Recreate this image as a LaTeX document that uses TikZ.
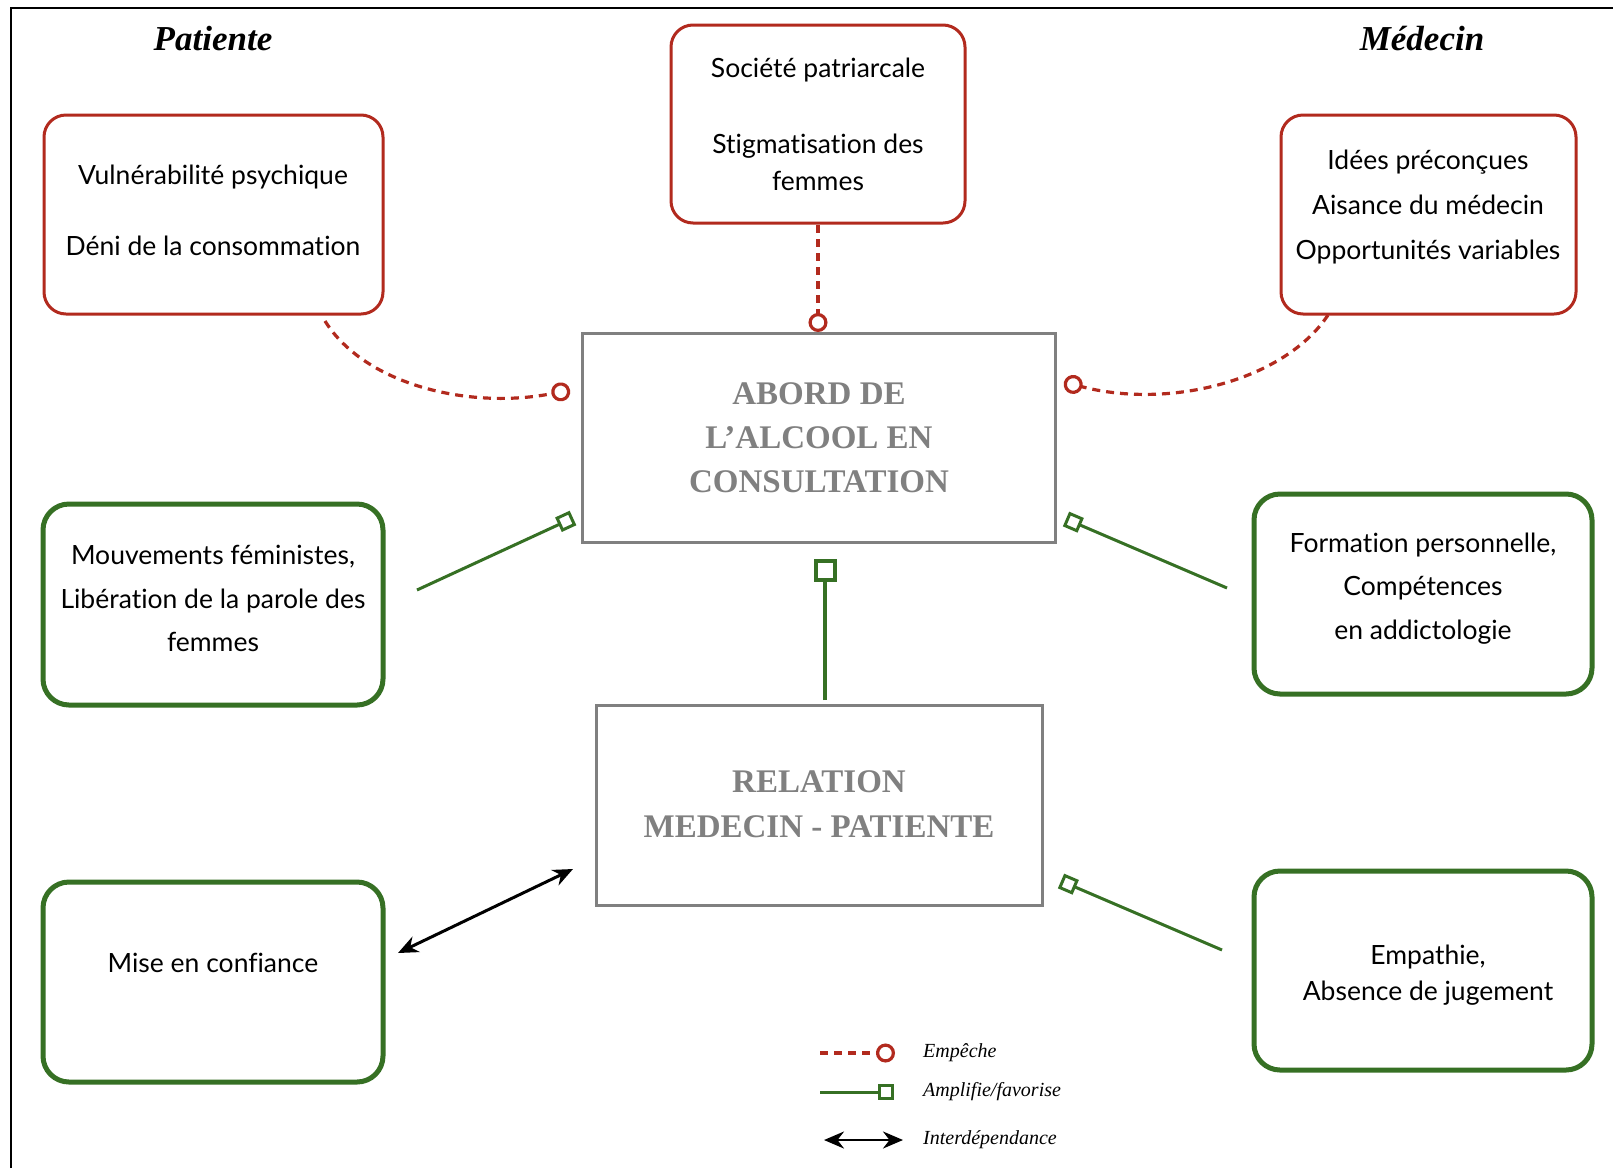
\documentclass[tikz,border=0pt]{standalone}
\usepackage{fontspec}
\setmainfont{Liberation Serif}
\newfontfamily\boxfont[Ligatures=NoCommon]{Lato}
\usetikzlibrary{arrows.meta}
\definecolor{cred}{RGB}{178,42,30}
\definecolor{cgreen}{RGB}{54,112,36}
\definecolor{cgray}{RGB}{128,128,128}
\begin{document}
\begin{tikzpicture}[x=1pt,y=-1pt,
  redbox/.style={draw=cred, line width=3pt, rounded corners=22pt, inner sep=0pt},
  greenbox/.style={draw=cgreen, line width=5pt, rounded corners=26pt, inner sep=0pt},
  graybox/.style={draw=cgray, line width=3pt, inner sep=0pt},
  boxtext/.style={align=center, inner sep=0pt},
  bigtext/.style={align=center, inner sep=0pt, text=cgray, font=\bfseries\fontsize{33}{44}\selectfont},
  header/.style={font=\bfseries\itshape\fontsize{35}{40}\selectfont, inner sep=0pt},
  legtext/.style={font=\itshape\fontsize{20}{22}\selectfont, anchor=west, inner sep=0pt},
  empeche/.style={draw=cred, line width=3.2pt, dash pattern=on 8pt off 6pt,
     -{Circle[open, length=19pt, width=19pt]}},
  amplifie/.style={draw=cgreen, line width=3pt, -{Square[open, length=16pt, width=16pt]}},
  amplifiebig/.style={draw=cgreen, line width=4pt, -{Square[open, length=23pt, width=23pt]}},
  interdep/.style={draw=black, line width=3pt, {Stealth[length=20pt, width=17pt]}-{Stealth[length=20pt, width=17pt]}}
]
\useasboundingbox (0,0) rectangle (1613,1168);
\fill[white] (0,0) rectangle (1613,1168);
% frame
\draw[line width=2.5pt] (11,1168) -- (11,8) -- (1613,8);

% headers
\node[header] (hpat) at (213,39) {Patiente};
\node[header] (hmed) at (1422,39) {Médecin};

% red boxes
\node[redbox, minimum width=339pt, minimum height=199pt] (vul) at (213.5,214.5) {};
\node[boxtext, font=\boxfont\fontsize{26.5}{71}\selectfont] (vultxt) at (213,210)
  {Vulnérabilité psychique\\Déni de la consommation};

\node[redbox, minimum width=294pt, minimum height=198pt] (soc) at (818,124) {};
\node[boxtext, font=\boxfont\fontsize{26.5}{37}\selectfont] (soctxt) at (818,124)
  {Société patriarcale\\[39pt]Stigmatisation des\\femmes};

\node[redbox, minimum width=295pt, minimum height=199pt] (idee) at (1428.5,214.5) {};
\node[boxtext, font=\boxfont\fontsize{26.5}{45}\selectfont] (ideetxt) at (1428,207)
  {Idées préconçues\\Aisance du médecin\\Opportunités variables};

% gray boxes
\node[graybox, minimum width=473pt, minimum height=209pt] (abord) at (818.5,437.5) {};
\node[bigtext] (abordtxt) at (819,438) {ABORD DE\\L’ALCOOL EN\\CONSULTATION};

\node[graybox, minimum width=446pt, minimum height=200pt] (rel) at (819,805) {};
\node[bigtext, font=\bfseries\fontsize{33}{45}\selectfont] (reltxt) at (819,804.5) {RELATION\\MEDECIN - PATIENTE};

% green boxes
\node[greenbox, minimum width=340pt, minimum height=201pt] (mouv) at (213,604.5) {};
\node[boxtext, font=\boxfont\fontsize{26.5}{43.5}\selectfont] (mouvtxt) at (213,598.5)
  {Mouvements féministes,\\Libération de la parole des\\femmes};

\node[greenbox, minimum width=338pt, minimum height=200pt] (form) at (1423,594) {};
\node[boxtext, font=\boxfont\fontsize{26.5}{43.5}\selectfont] (formtxt) at (1423,588.5)
  {Formation personnelle,\\Compétences\\en addictologie};

\node[greenbox, minimum width=340pt, minimum height=200pt] (mise) at (213,982) {};
\node[boxtext, font=\boxfont\fontsize{26.5}{30}\selectfont] (misetxt) at (213,963) {Mise en confiance};

\node[greenbox, minimum width=338pt, minimum height=199pt] (emp) at (1423,970.5) {};
\node[boxtext, font=\boxfont\fontsize{26.5}{36}\selectfont] (emptxt) at (1428,975)
  {Empathie,\\Absence de jugement};

% connector end points
\coordinate (vulS) at (325,321);
\coordinate (abordL1) at (570,390);
\coordinate (socS) at (818,225);
\coordinate (abordT) at (818,332);
\coordinate (ideeS) at (1328,315);
\coordinate (abordR1) at (1064,382);
\coordinate (mouvE) at (417,590);
\coordinate (abordL2) at (573,518);
\coordinate (formW) at (1227,588);
\coordinate (abordR2) at (1066,519);
\coordinate (relT) at (825,700);
\coordinate (abordB) at (825,559);
\coordinate (empW) at (1222,950);
\coordinate (relR) at (1061,881);
\coordinate (miseE) at (398,953);
\coordinate (relL) at (573,869);

% connectors
\draw[empeche] (vulS) .. controls (365,385) and (470,410) .. (abordL1);
\draw[empeche] (socS) -- (abordT);
\draw[empeche] (ideeS) .. controls (1285,380) and (1170,410) .. (abordR1);
\draw[amplifie] (mouvE) -- (abordL2);
\draw[amplifie] (formW) -- (abordR2);
\draw[amplifiebig] (relT) -- (abordB);
\draw[amplifie] (empW) -- (relR);
\draw[interdep] (miseE) -- (relL);

% legend
\coordinate (l1a) at (820,1053); \coordinate (l1b) at (895,1053);
\coordinate (l2a) at (820,1092); \coordinate (l2b) at (894,1092);
\coordinate (l3a) at (824,1140); \coordinate (l3b) at (903,1140);
\draw[empeche] (l1a) -- (l1b);
\draw[amplifie] (l2a) -- (l2b);
\draw[interdep, line width=2.5pt] (l3a) -- (l3b);
\node[legtext] (leg1) at (923,1053) {Empêche};
\node[legtext] (leg2) at (923,1092) {Amplifie/favorise};
\node[legtext] (leg3) at (923,1140) {Interdépendance};
\end{tikzpicture}
\end{document}
